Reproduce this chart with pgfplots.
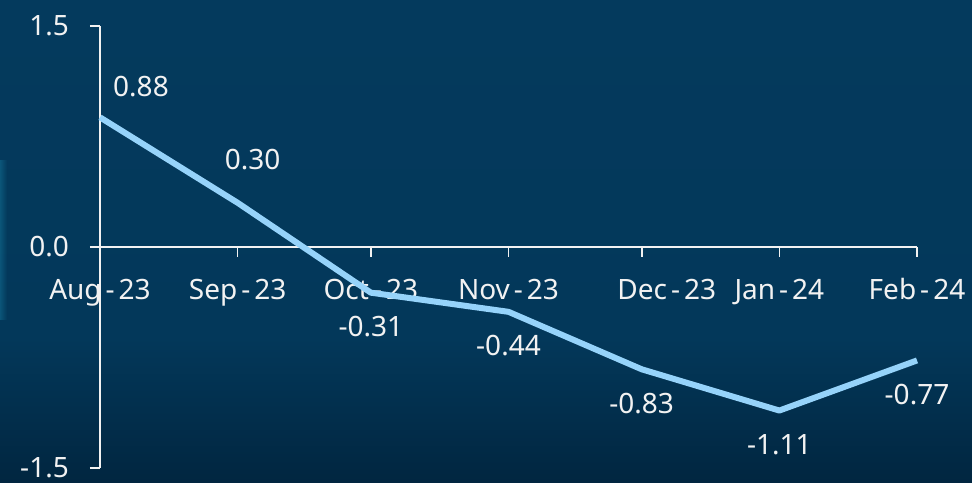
\documentclass[border=0pt]{standalone}
\usepackage{pgfplots}
\pgfplotsset{compat=1.18}
\usepackage{pgfplotstable}
\usetikzlibrary{fadings}
\usepackage{fontspec}
\setmainfont{Noto Sans}

\definecolor{bgtop}{RGB}{4,58,93}
\definecolor{bgmid}{RGB}{3,56,90}
\definecolor{bgbot}{RGB}{1,38,64}
\definecolor{glow}{RGB}{30,150,190}
\definecolor{linec}{RGB}{150,211,250}
\definecolor{axc}{RGB}{242,242,242}
\pgfdeclareverticalshading{panel}{100bp}{color(0bp)=(bgbot); color(25bp)=(bgbot); color(40bp)=(bgmid); color(75bp)=(bgtop); color(100bp)=(bgtop)}

% month offsets in days from 1 Aug 2023, value, label offset (pt)
\pgfplotstableread{
x   y     dx  dy
0   0.88  41  31
31  0.30  15  43
61  -0.31 0   -34
92  -0.44 0   -34
122 -0.83 0   -34
153 -1.11 0   -34
184 -0.77 0   -34
}\seriesdata

\newcommand{\lbl}{\fontsize{28}{32}\selectfont}
\newcommand{\mon}[2]{#1\kern4pt-\kern4pt#2}
% axis scale: 817pt over 184 days, 442pt over 3 units
\newcommand{\ptperday}{4.4402}
\newcommand{\ptperunit}{147.333}

\begin{document}
\begin{tikzpicture}
\begin{axis}[
  at={(100pt,14pt)}, anchor=south west,
  scale only axis, width=817pt, height=442pt,
  xmin=0, xmax=184, ymin=-1.5, ymax=1.5,
  axis x line=middle, axis y line=left,
  axis line style={-, draw=axc, line width=1.6pt},
  tick style={draw=axc, line width=1.6pt},
  xtick style={draw=none},
  tick align=outside, major tick length=10pt,
  hide obscured x ticks=false, hide obscured y ticks=false,
  xtick={0,31,61,92,122,153,184},
  xticklabels={\mon{Aug}{23},\mon{Sep}{23},\mon{Oct}{23},\mon{Nov}{23},
    \hspace*{50pt}\mon{Dec}{23},\mon{Jan}{24},\mon{Feb}{24}},
  ytick={-1.5,0,1.5},
  ticklabel style={font=\lbl, text=axc},
  xticklabel style={anchor=base, yshift=-42pt},
  yticklabel style={anchor=east, inner sep=0pt, xshift=-21pt,
    /pgf/number format/fixed, /pgf/number format/fixed zerofill,
    /pgf/number format/precision=1, /pgf/number format/assume math mode=true},
  clip=false,
  set layers,
]
% panel background behind everything
\begin{pgfonlayer}{axis background}
  \shade[shading=panel] ([xshift=-100pt,yshift=-14pt]rel axis cs:0,0)
    rectangle ([xshift=55pt,yshift=26pt]rel axis cs:1,1);
  \fill[glow, opacity=0.3, path fading=east] ([xshift=-100pt,yshift=-73pt]rel axis cs:0,0.5)
    rectangle ([xshift=-93pt,yshift=87pt]rel axis cs:0,0.5);
\end{pgfonlayer}
% month tick marks hanging 10pt below the zero line
\addplot[ycomb, axc, line width=1.6pt, mark=none]
  coordinates {(31,-0.0679) (61,-0.0679) (92,-0.0679) (122,-0.0679) (153,-0.0679) (184,-0.0679)};
\addplot[linec, line width=6pt, line join=round, on layer=axis foreground]
  table[x=x, y=y] {\seriesdata};
% value labels, offset from each point by (dx,dy) in pt
\addplot[draw=none, mark=none, nodes near coords, point meta=\thisrow{y},
  nodes near coords align={center},
  every node near coord/.append style={anchor=center, text=axc, font=\lbl,
    /pgf/number format/fixed, /pgf/number format/fixed zerofill,
    /pgf/number format/precision=2, /pgf/number format/assume math mode=true}]
  table[x expr=\thisrow{x}+\thisrow{dx}/\ptperday,
        y expr=\thisrow{y}+\thisrow{dy}/\ptperunit] {\seriesdata};
\end{axis}
\end{tikzpicture}
\end{document}
